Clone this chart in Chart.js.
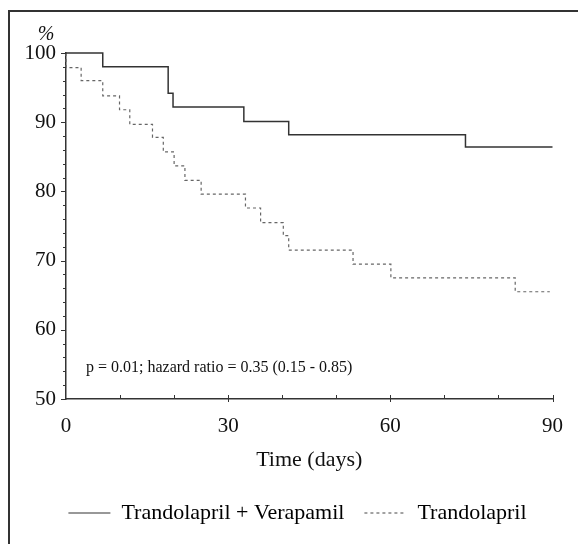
<!DOCTYPE html>
<html>
<head>
<meta charset="utf-8">
<script src="https://cdn.jsdelivr.net/npm/chart.js@4"></script>
<style>
  body { margin: 0; background: #fff; }
  #frame {
    position: absolute; left: 8px; top: 10px; width: 570px; height: 534px;
    border-top: 2px solid #333; border-left: 2px solid #333;
  }
  #myChart { position: absolute; left: 0; top: 0; }
</style>
</head>
<body>
<div id="frame"></div>
<canvas id="myChart" width="578" height="544"></canvas>
<script>
// survival (%), time in days
const comboDays = [0, 6.8, 18.9, 19.8, 32.9, 41.2, 73.9, 90];
const comboSurvival = [100, 98, 94.2, 92.2, 90.1, 88.2, 86.4, 86.4];
const trandoDays = [0, 0, 2.8, 6.8, 9.9, 11.8, 16, 18, 20, 22, 25, 33.2, 36, 40.2, 41.2, 53.1, 60.1, 83.1, 89.5];
const trandoSurvival = [100, 97.9, 96, 93.8, 91.8, 89.7, 87.8, 85.7, 83.7, 81.6, 79.6, 77.6, 75.5, 73.6, 71.5, 69.5, 67.5, 65.5, 65.5];
const seriesNames = ["Trandolapril + Verapamil", "Trandolapril"];
const xTicks = [0, 30, 60, 90];
const yTicks = [50, 60, 70, 80, 90, 100];
const statText = "p = 0.01; hazard ratio = 0.35 (0.15 - 0.85)";

const serif = "'Liberation Serif', 'DejaVu Serif', serif";

function toPoints(days, values) {
  let pts = [];
  for (let i = 0; i < days.length; i++) {
    pts.push({ x: days[i], y: values[i] });
  }
  return pts;
}

// small tick marks, the % sign and the p-value note
const extras = {
  id: "extras",
  afterDraw(chart) {
    const ctx = chart.ctx;
    const xs = chart.scales.x;
    const ys = chart.scales.y;
    const area = chart.chartArea;
    ctx.save();
    ctx.strokeStyle = "#333";
    ctx.lineWidth = 1;
    for (let v = 50; v <= 100; v += 2) {
      const y = Math.round(ys.getPixelForValue(v)) + 0.5;
      const len = v % 10 === 0 ? 5 : 3;
      ctx.beginPath();
      ctx.moveTo(area.left - len, y);
      ctx.lineTo(area.left, y);
      ctx.stroke();
    }
    for (let d = 10; d <= 90; d += 10) {
      const x = Math.round(xs.getPixelForValue(d)) + 0.5;
      const major = d % 30 === 0;
      ctx.beginPath();
      ctx.moveTo(x, area.bottom - 4);
      ctx.lineTo(x, area.bottom + (major ? 3 : 0));
      ctx.stroke();
    }
    ctx.fillStyle = "#111";
    ctx.font = "italic 20px " + serif;
    ctx.textAlign = "center";
    ctx.textBaseline = "middle";
    ctx.fillText("%", 46, 35);
    ctx.font = "16px " + serif;
    ctx.textAlign = "left";
    ctx.fillText(statText, area.left + 20, ys.getPixelForValue(54.5));
    ctx.restore();
  },
};

const ctx = document.getElementById("myChart");

new Chart(ctx, {
  type: "line",
  data: {
    datasets: [
      {
        label: seriesNames[0],
        data: toPoints(comboDays, comboSurvival),
        stepped: "before",
        borderColor: "#333",
        borderWidth: 1.5,
        pointRadius: 0,
        fill: false,
        clip: 6,
      },
      {
        label: seriesNames[1],
        data: toPoints(trandoDays, trandoSurvival),
        stepped: "before",
        borderColor: "#666",
        borderWidth: 1.2,
        borderDash: [3, 3],
        pointRadius: 0,
        fill: false,
        clip: 6,
      },
    ],
  },
  options: {
    responsive: false,
    animation: false,
    layout: { padding: { left: 17, right: 0, top: 53, bottom: 10 } },
    plugins: {
      tooltip: { enabled: false },
      legend: {
        position: "bottom",
        labels: {
          font: { family: serif, size: 22 },
          color: "#111",
          usePointStyle: true,
          pointStyleWidth: 42,
          boxHeight: 22,
          padding: 20,
          generateLabels(chart) {
            return chart.data.datasets.map((ds, i) => ({
              text: ds.label,
              pointStyle: "line",
              fillStyle: "rgba(0,0,0,0)",
              strokeStyle: ds.borderColor,
              lineWidth: 1.2,
              lineDash: ds.borderDash || [],
              datasetIndex: i,
            }));
          },
        },
      },
    },
    scales: {
      x: {
        type: "linear",
        min: 0,
        max: 90,
        afterBuildTicks(scale) {
          scale.ticks = xTicks.map((v) => ({ value: v }));
        },
        afterFit(scale) {
          scale.height = 83;
        },
        grid: { display: false, drawTicks: false },
        border: { display: true, color: "#333", width: 1.5 },
        ticks: {
          font: { family: serif, size: 21 },
          color: "#111",
          padding: 15,
          maxRotation: 0,
        },
        title: {
          display: true,
          text: "Time (days)",
          font: { family: serif, size: 22 },
          color: "#111",
          padding: { top: 0, bottom: 9 },
        },
      },
      y: {
        min: 50,
        max: 100,
        afterBuildTicks(scale) {
          scale.ticks = yTicks.map((v) => ({ value: v }));
        },
        afterFit(scale) {
          scale.width = 49;
        },
        grid: { display: false, drawTicks: false },
        border: { display: true, color: "#333", width: 1.5 },
        ticks: {
          font: { family: serif, size: 21 },
          color: "#111",
          padding: 10,
        },
      },
      yRight: {
        position: "right",
        display: true,
        grid: { display: false, drawTicks: false },
        border: { display: false },
        ticks: { display: false },
        afterFit(scale) {
          scale.width = 25;
        },
      },
    },
  },
  plugins: [extras],
});
</script>
</body>
</html>
